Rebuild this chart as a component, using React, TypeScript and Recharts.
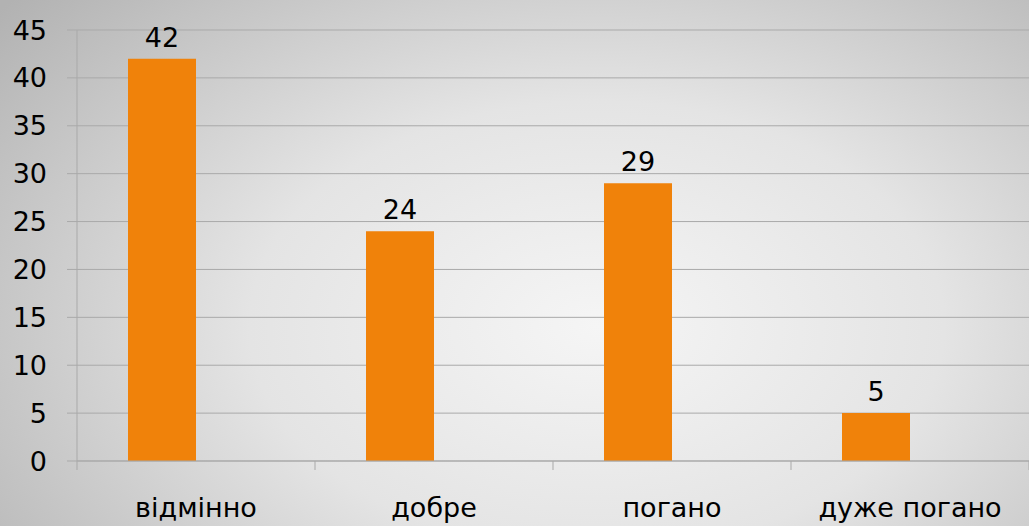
import { BarChart, Bar, XAxis, YAxis, CartesianGrid, LabelList } from 'recharts'

const categories = ['відмінно', 'добре', 'погано', 'дуже погано']
const votes = [42, 24, 29, 5]
// second (empty) series of the original chart keeps the bars off-centre
const blank = [null, null, null, null]
const yTicks = [0, 5, 10, 15, 20, 25, 30, 35, 40, 45]

const data = categories.map((name, i) => ({ name, votes: votes[i], blank: blank[i] }))

const FONT = '"DejaVu Sans", Verdana, sans-serif'
const GRID = '#a9a9a9'

// label at the band centre, small tick marks at the band edges
function CategoryTick(props: any) {
  const { x, y, payload, index } = props
  const half = payload.offset ?? 0
  const last = index === categories.length - 1
  return (
    <g>
      <line x1={x - half} x2={x - half} y1={y} y2={y + 9} stroke={GRID} />
      {last && <line x1={x + half} x2={x + half} y1={y} y2={y + 9} stroke={GRID} />}
      <text x={x} y={y + 56} textAnchor="middle" fontSize={27} fontFamily={FONT} fill="#000">
        {payload.value}
      </text>
    </g>
  )
}

export default function App() {
  return (
    <div
      style={{
        position: 'absolute',
        left: 0,
        top: 0,
        width: 1029,
        height: 526,
        background: 'radial-gradient(ellipse 75% 95% at 58% 62%, #f5f5f5 0%, #e4e4e4 45%, #b2b2b2 100%)',
      }}
    >
      <BarChart
        width={1029}
        height={526}
        data={data}
        margin={{ top: 30, right: 0, bottom: 0, left: 0 }}
        barCategoryGap={51}
        barGap={0}
      >
        <CartesianGrid vertical={false} stroke={GRID} />
        <XAxis
          dataKey="name"
          height={65}
          axisLine={{ stroke: GRID }}
          tickLine={false}
          tickSize={0}
          tickMargin={0}
          interval={0}
          tick={<CategoryTick />}
        />
        <YAxis
          width={77}
          domain={[0, 45]}
          ticks={yTicks}
          interval={0}
          axisLine={{ stroke: GRID }}
          tickLine={{ stroke: GRID }}
          tickSize={10}
          tickMargin={20}
          tick={{ fontSize: 27, fontFamily: FONT, fill: '#000' }}
        />
        <Bar dataKey="votes" fill="#f0820a" isAnimationActive={false}>
          <LabelList dataKey="votes" position="top" offset={12} fontSize={27} fontFamily={FONT} fill="#000" />
        </Bar>
        <Bar dataKey="blank" fill="transparent" isAnimationActive={false} />
      </BarChart>
    </div>
  )
}
